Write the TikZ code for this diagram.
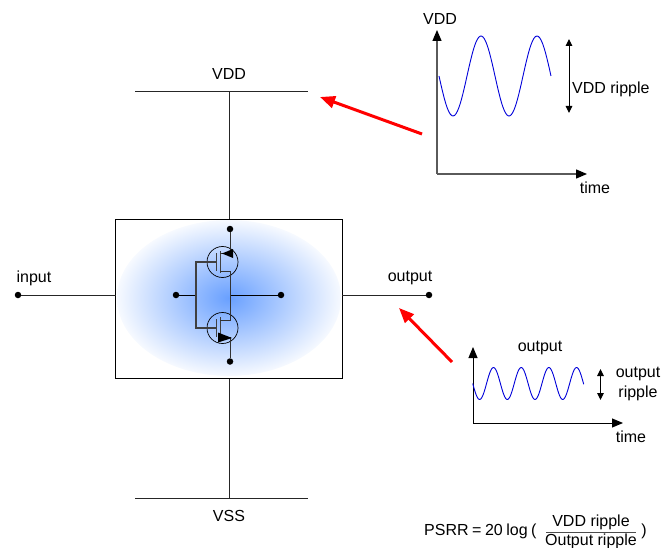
\documentclass[tikz,border=0pt]{standalone}
\usepackage{fontspec}
\setmainfont{Liberation Sans}
\usetikzlibrary{arrows.meta}
\definecolor{blobc}{RGB}{105,160,255}
\definecolor{axgrey}{RGB}{90,90,90}
\pgfdeclareradialshading{blob}{\pgfpointorigin}{color(0bp)=(blobc); color(26.5bp)=(white); color(100bp)=(white)}
\tikzset{
  x=1pt,y=-1pt,
  wire/.style={draw=black!85,line width=1pt},
  fine/.style={draw=black,line width=0.9pt},
  dot/.style={circle,fill=black,inner sep=0pt,minimum size=6.5pt},
  lbl/.style={font=\fontsize{16}{18}\selectfont,inner sep=0pt,text=black},
  axis/.style={draw=axgrey,line width=1.3pt,-{Triangle[length=11pt,width=9pt,black]}},
  axisb/.style={draw=black,line width=1pt,-{Triangle[length=11pt,width=9pt,black]}},
  span/.style={draw=black,line width=1pt,{Triangle[length=7pt,width=6.5pt]}-{Triangle[length=7pt,width=6.5pt]}},
  redarr/.style={draw=red,line width=3pt,-{Triangle[length=15pt,width=12pt]}},
  wave/.style={draw=blue!85!black,line width=0.9pt},
}
\begin{document}
\begin{tikzpicture}
\useasboundingbox (0,0) rectangle (661,548);
% power rails
\coordinate (vl) at (135,92); \coordinate (vr) at (308,92); \coordinate (vm) at (229,92);
\coordinate (sl) at (135,498); \coordinate (sr) at (308,498); \coordinate (sm) at (229,498);
\draw[wire] (vl) -- (vr);
\draw[wire] (sl) -- (sr);
\node[lbl] (vddt) at (229,74) {VDD};
\node[lbl] (vsst) at (229,516) {VSS};
% block
\node[draw=none,minimum width=226pt,minimum height=158pt,inner sep=0pt] (blk) at (229,299) {};
\shade[shading=blob] (229,298) ellipse [x radius=112,y radius=78];
\draw[wire] (vm) -- (blk.north -| vm);
\draw[wire] (sm) -- (blk.south -| sm);
\draw[draw=black,line width=1pt] (blk.south west) rectangle (blk.north east);
% input / output
\node[dot] (inp) at (18,295) {};
\node[dot] (outp) at (429,295) {};
\draw[wire] (inp) -- (inp -| blk.west);
\draw[wire] (outp) -- (outp -| blk.east);
\node[lbl] (int) at (34,278) {input};
\node[lbl] (outt) at (410,278) {output};
% inner circuit
\node[dot] (dtop) at (230,229) {};
\node[dot] (dbot) at (230,361.5) {};
\node[dot] (dl) at (176,295) {};
\node[dot] (dr) at (281,295) {};
\node[draw=black,line width=0.7pt,circle,minimum size=31pt,inner sep=0pt] (mt) at (222.5,262) {};
\node[draw=black,line width=0.7pt,circle,minimum size=31pt,inner sep=0pt] (mb) at (222.5,328) {};
\draw[fine] (dl) -- (196,295);
\draw[fine] (230,295) -- (dr);
\draw[draw=black!75,line width=1.3pt] (216,262) -- (196,262) -- (196,328) -- (216,328);
\draw[draw=black!75,line width=1pt] (216.5,253) -- (216.5,271);
\draw[draw=black!75,line width=1pt] (220,251) -- (220,273);
\draw[draw=black!75,line width=1pt] (216.5,319) -- (216.5,337);
\draw[draw=black!75,line width=1pt] (220,317) -- (220,339);
\draw[draw=black!80,line width=1pt] (dtop) -- (230,253) -- (220,253);
\draw[draw=black!80,line width=1pt] (220,271.5) -- (230,271.5) -- (230,320) -- (220,320);
\draw[draw=black!80,line width=1pt] (220,337.5) -- (230,337.5) -- (dbot);
\fill[black] (222,253.5) -- (233,249) -- (233,258) -- cycle;
\fill[black] (232,338) -- (218,332.5) -- (218,342.5) -- cycle;
% red arrows
\coordinate (r1s) at (422,134); \coordinate (r1e) at (320,97);
\coordinate (r2s) at (452,362); \coordinate (r2e) at (399,308);
\draw[redarr] (r1s) -- (r1e);
\draw[redarr] (r2s) -- (r2e);
% VDD plot
\coordinate (o1) at (437,174);
\draw[axis] (o1) -- (437,30);
\draw[axis] (o1) -- (587,174);
\draw[wave] plot[smooth,samples=80,domain=0:112,variable=\t] ({439+\t},{76+40*sin(\t/56*360)});
\draw[span] (569,39) -- (569,113);
\node[lbl] (t1) at (440,19) {VDD};
\node[lbl,anchor=west] (t2) at (572,89) {VDD ripple};
\node[lbl] (t3) at (595,188) {time};
% output plot
\coordinate (o2) at (473,423);
\draw[axisb] (o2) -- (473,347);
\draw[axisb] (o2) -- (623,423);
\draw[wave] plot[smooth,samples=120,domain=0:111,variable=\t] ({472.7+\t},{383.5+16*sin(\t/27.7*360)});
\draw[span] (600.5,369) -- (600.5,400);
\node[lbl] (t4) at (540,348) {output};
\node[lbl] (t5) at (638,374) {output};
\node[lbl] (t6) at (638,393) {ripple};
\node[lbl] (t7) at (631,437) {time};
% formula
\node[lbl,anchor=west] (f1) at (424,531) {\spaceskip=0.22em PSRR = 20 log (};
\node[lbl] (f2) at (591,522) {VDD ripple};
\node[lbl] (f3) at (591,541) {Output ripple};
\draw[draw=black!70,line width=1pt] (546,532) -- (636,532);
\node[lbl] (f4) at (644,531) {)};
\end{tikzpicture}
\end{document}
